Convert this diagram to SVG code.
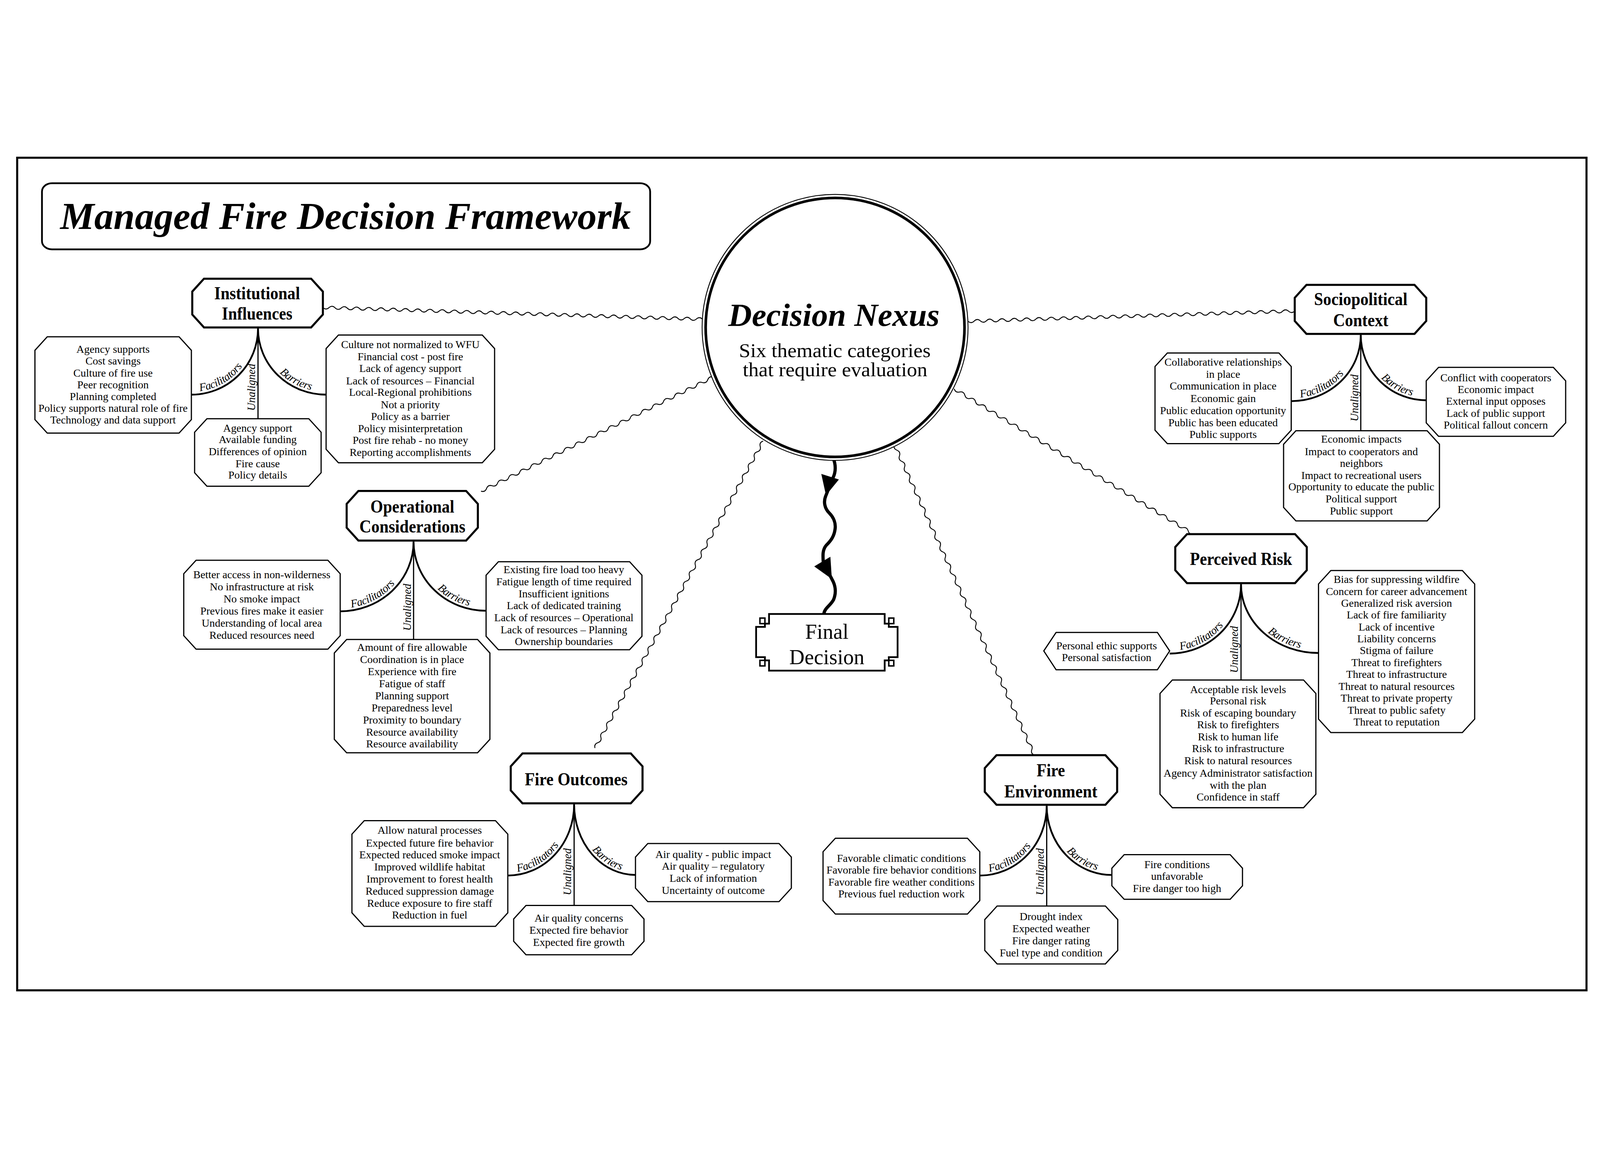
<svg xmlns="http://www.w3.org/2000/svg" width="5451" height="2946" viewBox="0 0 5451 2946">
<style>
svg{width:100vw;height:100vh}
text{font-family:"Liberation Serif","Times New Roman",serif;fill:#000}
.item{font-size:37px;text-anchor:middle}
.hdr{font-size:62px;font-weight:bold;text-anchor:middle}
.lbl{font-size:38px;font-style:italic}
.box{fill:#fff;stroke:#000;stroke-width:4}
.hbox{fill:#fff;stroke:#000;stroke-width:7}
.wave{fill:none;stroke:#000;stroke-width:3}
.arc{fill:none;stroke:#000;stroke-width:6}
.trunk{fill:none;stroke:#000;stroke-width:4}
</style>
<defs>
<path id="fa-inst" d="M652,857 A227,225 0 0 0 879,632"/>
<path id="fa-socio" d="M4399,879 A237,225 0 0 0 4636,654"/>
<path id="fa-oper" d="M1159,1595 A250,237 0 0 0 1409,1358"/>
<path id="fa-perc" d="M3985,1739 A243,236 0 0 0 4228,1503"/>
<path id="fa-fo" d="M1730,2495 A226,242 0 0 0 1956,2253"/>
<path id="fa-fe" d="M3338,2495 A228,237 0 0 0 3566,2258"/>
</defs>
<rect x="0" y="0" width="5451" height="2946" fill="#fff"/>
<rect x="58.5" y="50" width="5346.5" height="2836" fill="none" stroke="#000" stroke-width="7"/>

<g id="title">
<rect x="143" y="137" width="2072" height="225" rx="34" ry="28" fill="#fff" stroke="#000" stroke-width="6"/>
<text x="1177" y="292" font-size="130" font-weight="bold" font-style="italic" text-anchor="middle" textLength="1944" lengthAdjust="spacingAndGlyphs">Managed Fire Decision Framework</text>
</g>

<g id="connectors">
<path class="wave" transform="translate(1100,560) rotate(1.77)" d="M0,0 q10.43,10 20.87,0 t20.87,0 20.87,0 20.87,0 20.87,0 20.87,0 20.87,0 20.87,0 20.87,0 20.87,0 20.87,0 20.87,0 20.87,0 20.87,0 20.87,0 20.87,0 20.87,0 20.87,0 20.87,0 20.87,0 20.87,0 20.87,0 20.87,0 20.87,0 20.87,0 20.87,0 20.87,0 20.87,0 20.87,0 20.87,0 20.87,0 20.87,0 20.87,0 20.87,0 20.87,0 20.87,0 20.87,0 20.87,0 20.87,0 20.87,0 20.87,0 20.87,0 20.87,0 20.87,0 20.87,0 20.87,0 20.87,0 20.87,0 20.87,0 20.87,0 20.87,0 20.87,0 20.87,0 20.87,0 20.87,0 20.87,0 20.87,0 20.87,0 20.87,0 20.87,0 20.87,0 20.87,0"/>
<path class="wave" transform="translate(2430,797) rotate(153.83)" d="M0,0 q10.5,10 20.99,0 t20.99,0 20.99,0 20.99,0 20.99,0 20.99,0 20.99,0 20.99,0 20.99,0 20.99,0 20.99,0 20.99,0 20.99,0 20.99,0 20.99,0 20.99,0 20.99,0 20.99,0 20.99,0 20.99,0 20.99,0 20.99,0 20.99,0 20.99,0 20.99,0 20.99,0 20.99,0 20.99,0 20.99,0 20.99,0 20.99,0 20.99,0 20.99,0 20.99,0 20.99,0 20.99,0 20.99,0 20.99,0 20.99,0 20.99,0 20.99,0 20.99,0"/>
<path class="wave" transform="translate(2600,1015) rotate(118.72)" d="M0,0 q10.46,10 20.92,0 t20.92,0 20.92,0 20.92,0 20.92,0 20.92,0 20.92,0 20.92,0 20.92,0 20.92,0 20.92,0 20.92,0 20.92,0 20.92,0 20.92,0 20.92,0 20.92,0 20.92,0 20.92,0 20.92,0 20.92,0 20.92,0 20.92,0 20.92,0 20.92,0 20.92,0 20.92,0 20.92,0 20.92,0 20.92,0 20.92,0 20.92,0 20.92,0 20.92,0 20.92,0 20.92,0 20.92,0 20.92,0 20.92,0 20.92,0 20.92,0 20.92,0 20.92,0 20.92,0 20.92,0 20.92,0 20.92,0 20.92,0 20.92,0 20.92,0 20.92,0 20.92,0 20.92,0 20.92,0 20.92,0 20.92,0 20.92,0"/>
<path class="wave" transform="translate(3047,1027) rotate(65.73)" d="M0,0 q10.55,10 21.1,0 t21.1,0 21.1,0 21.1,0 21.1,0 21.1,0 21.1,0 21.1,0 21.1,0 21.1,0 21.1,0 21.1,0 21.1,0 21.1,0 21.1,0 21.1,0 21.1,0 21.1,0 21.1,0 21.1,0 21.1,0 21.1,0 21.1,0 21.1,0 21.1,0 21.1,0 21.1,0 21.1,0 21.1,0 21.1,0 21.1,0 21.1,0 21.1,0 21.1,0 21.1,0 21.1,0 21.1,0 21.1,0 21.1,0 21.1,0 21.1,0 21.1,0 21.1,0 21.1,0 21.1,0 21.1,0 21.1,0 21.1,0 21.1,0 21.1,0 21.1,0 21.1,0 21.1,0 21.1,0 21.1,0"/>
<path class="wave" transform="translate(3251,837) rotate(31.27)" d="M0,0 q10.6,10 21.19,0 t21.19,0 21.19,0 21.19,0 21.19,0 21.19,0 21.19,0 21.19,0 21.19,0 21.19,0 21.19,0 21.19,0 21.19,0 21.19,0 21.19,0 21.19,0 21.19,0 21.19,0 21.19,0 21.19,0 21.19,0 21.19,0 21.19,0 21.19,0 21.19,0 21.19,0 21.19,0 21.19,0 21.19,0 21.19,0 21.19,0 21.19,0 21.19,0 21.19,0 21.19,0 21.19,0 21.19,0 21.19,0 21.19,0 21.19,0 21.19,0 21.19,0 21.19,0 21.19,0 21.19,0"/>
<path class="wave" transform="translate(3298,607) rotate(-1.8)" d="M0,0 q10.5,10 21.01,0 t21.01,0 21.01,0 21.01,0 21.01,0 21.01,0 21.01,0 21.01,0 21.01,0 21.01,0 21.01,0 21.01,0 21.01,0 21.01,0 21.01,0 21.01,0 21.01,0 21.01,0 21.01,0 21.01,0 21.01,0 21.01,0 21.01,0 21.01,0 21.01,0 21.01,0 21.01,0 21.01,0 21.01,0 21.01,0 21.01,0 21.01,0 21.01,0 21.01,0 21.01,0 21.01,0 21.01,0 21.01,0 21.01,0 21.01,0 21.01,0 21.01,0 21.01,0 21.01,0 21.01,0 21.01,0 21.01,0 21.01,0 21.01,0 21.01,0 21.01,0 21.01,0 21.01,0"/>

<path fill="none" stroke="#000" stroke-width="11" stroke-linecap="round" d="M2838,1072 C2848,1095 2848,1120 2838,1140 L2814,1200 C2804,1222 2810,1245 2825,1260 C2840,1275 2848,1295 2845,1315 C2842,1340 2830,1355 2815,1370 C2802,1385 2803,1405 2805,1430 L2834,1485 C2846,1505 2850,1530 2840,1555 C2830,1575 2808,1585 2807,1604"/>
<polygon points="2798,1127 2858,1146 2814,1200" fill="#000"/>
<polygon points="2774,1442 2829,1409 2834,1485" fill="#000"/>

<path class="trunk" d="M879,628 V939"/>
<path class="arc" d="M879,632 A227,225 0 0 1 652,857"/>
<path class="arc" id="ba-inst" d="M879,632 A232,225 0 0 0 1111,857"/>
<path class="trunk" d="M4636,650 V980"/>
<path class="arc" d="M4636,654 A237,225 0 0 1 4399,879"/>
<path class="arc" id="ba-socio" d="M4636,654 A223,222 0 0 0 4859,876"/>
<path class="trunk" d="M1409,1354 V1691"/>
<path class="arc" d="M1409,1358 A250,237 0 0 1 1159,1595"/>
<path class="arc" id="ba-oper" d="M1409,1358 A247,235 0 0 0 1656,1593"/>
<path class="trunk" d="M4228,1499 V1829"/>
<path class="arc" d="M4228,1503 A243,236 0 0 1 3985,1739"/>
<path class="arc" id="ba-perc" d="M4228,1503 A264,234 0 0 0 4492,1737"/>
<path class="trunk" d="M1956,2249 V2597"/>
<path class="arc" d="M1956,2253 A226,242 0 0 1 1730,2495"/>
<path class="arc" id="ba-fo" d="M1956,2253 A209,240 0 0 0 2165,2493"/>
<path class="trunk" d="M3566,2254 V2599"/>
<path class="arc" d="M3566,2258 A228,237 0 0 1 3338,2495"/>
<path class="arc" id="ba-fe" d="M3566,2258 A222,235 0 0 0 3788,2493"/>

<text class="lbl" text-anchor="middle" dy="-10"><textPath href="#fa-inst" startOffset="34%">Facilitators</textPath></text>
<text class="lbl" text-anchor="middle" dy="-10"><textPath href="#ba-inst" startOffset="67%">Barriers</textPath></text>
<text class="lbl" text-anchor="middle" transform="translate(869,832) rotate(-90)">Unaligned</text>
<text class="lbl" text-anchor="middle" dy="-10"><textPath href="#fa-socio" startOffset="34%">Facilitators</textPath></text>
<text class="lbl" text-anchor="middle" dy="-10"><textPath href="#ba-socio" startOffset="67%">Barriers</textPath></text>
<text class="lbl" text-anchor="middle" transform="translate(4627,868) rotate(-90)">Unaligned</text>
<text class="lbl" text-anchor="middle" dy="-10"><textPath href="#fa-oper" startOffset="34%">Facilitators</textPath></text>
<text class="lbl" text-anchor="middle" dy="-10"><textPath href="#ba-oper" startOffset="67%">Barriers</textPath></text>
<text class="lbl" text-anchor="middle" transform="translate(1400,1581) rotate(-90)">Unaligned</text>
<text class="lbl" text-anchor="middle" dy="-10"><textPath href="#fa-perc" startOffset="34%">Facilitators</textPath></text>
<text class="lbl" text-anchor="middle" dy="-10"><textPath href="#ba-perc" startOffset="67%">Barriers</textPath></text>
<text class="lbl" text-anchor="middle" transform="translate(4218,1725) rotate(-90)">Unaligned</text>
<text class="lbl" text-anchor="middle" dy="-10"><textPath href="#fa-fo" startOffset="34%">Facilitators</textPath></text>
<text class="lbl" text-anchor="middle" dy="-10"><textPath href="#ba-fo" startOffset="67%">Barriers</textPath></text>
<text class="lbl" text-anchor="middle" transform="translate(1946,2482) rotate(-90)">Unaligned</text>
<text class="lbl" text-anchor="middle" dy="-10"><textPath href="#fa-fe" startOffset="34%">Facilitators</textPath></text>
<text class="lbl" text-anchor="middle" dy="-10"><textPath href="#ba-fe" startOffset="67%">Barriers</textPath></text>
<text class="lbl" text-anchor="middle" transform="translate(3556,2482) rotate(-90)">Unaligned</text>
</g>

<g id="decision-nexus">
<circle cx="2845" cy="628" r="453" fill="#fff" stroke="#000" stroke-width="3"/>
<circle cx="2845" cy="628" r="441" fill="none" stroke="#000" stroke-width="9"/>
<text x="2841" y="622" font-size="110" font-weight="bold" font-style="italic" text-anchor="middle" textLength="720" lengthAdjust="spacingAndGlyphs">Decision Nexus</text>
<text x="2844" y="729" font-size="67" text-anchor="middle" textLength="653" lengthAdjust="spacingAndGlyphs">Six thematic categories</text>
<text x="2845" y="794" font-size="67" text-anchor="middle" textLength="629" lengthAdjust="spacingAndGlyphs">that require evaluation</text>
</g>

<g id="final-decision">
<path d="M2620,1604 H3014 V1637 H3028 V1648 H3058 V1751 H3028 V1762 H3014 V1797 H2620 V1762 H2606 V1751 H2576 V1648 H2606 V1637 H2620 Z" fill="#fff" stroke="#000" stroke-width="6"/>
<rect x="2589" y="1618" width="17" height="19" fill="#fff" stroke="#000" stroke-width="5"/>
<rect x="3028" y="1618" width="17" height="19" fill="#fff" stroke="#000" stroke-width="5"/>
<rect x="2589" y="1762" width="17" height="19" fill="#fff" stroke="#000" stroke-width="5"/>
<rect x="3028" y="1762" width="17" height="19" fill="#fff" stroke="#000" stroke-width="5"/>
<text x="2817" y="1688" font-size="72" text-anchor="middle">Final</text>
<text x="2817" y="1775" font-size="72" text-anchor="middle">Decision</text>
</g>

<g id="institutional">
<polygon class="hbox" points="695,462 1060,462 1100,506 1100,584 1060,628 695,628 655,584 655,506"/>
<text class="hdr" x="876" y="532" textLength="292" lengthAdjust="spacingAndGlyphs">Institutional</text>
<text class="hdr" x="876" y="602" textLength="240" lengthAdjust="spacingAndGlyphs">Influences</text>
<polygon class="box" points="161,660 610,660 652,706 652,942 610,988 161,988 119,942 119,706"/>
<text class="item"><tspan x="385" y="714">Agency supports</tspan><tspan x="385" y="755">Cost savings</tspan><tspan x="385" y="795">Culture of fire use</tspan><tspan x="385" y="835">Peer recognition</tspan><tspan x="385" y="875">Planning completed</tspan><tspan x="385" y="916">Policy supports natural role of fire</tspan><tspan x="385" y="956">Technology and data support</tspan></text>
<polygon class="box" points="705,939 1052,939 1094,985 1094,1123 1052,1169 705,1169 663,1123 663,985"/>
<text class="item"><tspan x="878" y="983">Agency support</tspan><tspan x="878" y="1022">Available funding</tspan><tspan x="878" y="1063">Differences of opinion</tspan><tspan x="878" y="1104">Fire cause</tspan><tspan x="878" y="1143">Policy details</tspan></text>
<polygon class="box" points="1153,654 1643,654 1685,700 1685,1043 1643,1089 1153,1089 1111,1043 1111,700"/>
<text class="item"><tspan x="1398" y="699">Culture not normalized to WFU</tspan><tspan x="1398" y="740">Financial cost - post fire</tspan><tspan x="1398" y="780">Lack of agency support</tspan><tspan x="1398" y="822">Lack of resources – Financial</tspan><tspan x="1398" y="861">Local-Regional prohibitions</tspan><tspan x="1398" y="903">Not a priority</tspan><tspan x="1398" y="944">Policy as a barrier</tspan><tspan x="1398" y="985">Policy misinterpretation</tspan><tspan x="1398" y="1025">Post fire rehab - no money</tspan><tspan x="1398" y="1066">Reporting accomplishments</tspan></text>
</g>

<g id="sociopolitical">
<polygon class="hbox" points="4451,483 4819,483 4859,527 4859,606 4819,650 4451,650 4411,606 4411,527"/>
<text class="hdr" x="4636" y="552" textLength="318" lengthAdjust="spacingAndGlyphs">Sociopolitical</text>
<text class="hdr" x="4636" y="624" textLength="188" lengthAdjust="spacingAndGlyphs">Context</text>
<polygon class="box" points="3977,715 4357,715 4399,761 4399,978 4357,1024 3977,1024 3935,978 3935,761"/>
<text class="item"><tspan x="4167" y="758">Collaborative relationships</tspan><tspan x="4167" y="799">in place</tspan><tspan x="4167" y="839">Communication in place</tspan><tspan x="4167" y="882">Economic gain</tspan><tspan x="4167" y="923">Public education opportunity</tspan><tspan x="4167" y="964">Public has been educated</tspan><tspan x="4167" y="1004">Public supports</tspan></text>
<polygon class="box" points="4415,980 4862,980 4904,1026 4904,1241 4862,1287 4415,1287 4373,1241 4373,1026"/>
<text class="item"><tspan x="4638" y="1021">Economic impacts</tspan><tspan x="4638" y="1063">Impact to cooperators and</tspan><tspan x="4638" y="1103">neighbors</tspan><tspan x="4638" y="1144">Impact to recreational users</tspan><tspan x="4638" y="1183">Opportunity to educate the public</tspan><tspan x="4638" y="1224">Political support</tspan><tspan x="4638" y="1265">Public support</tspan></text>
<polygon class="box" points="4901,764 5292,764 5334,810 5334,953 5292,999 4901,999 4859,953 4859,810"/>
<text class="item"><tspan x="5096" y="812">Conflict with cooperators</tspan><tspan x="5096" y="851">Economic impact</tspan><tspan x="5096" y="892">External input opposes</tspan><tspan x="5096" y="933">Lack of public support</tspan><tspan x="5096" y="972">Political fallout concern</tspan></text>
</g>

<g id="operational">
<polygon class="hbox" points="1221,1185 1588,1185 1628,1229 1628,1310 1588,1354 1221,1354 1181,1310 1181,1229"/>
<text class="hdr" x="1405" y="1259" textLength="286" lengthAdjust="spacingAndGlyphs">Operational</text>
<text class="hdr" x="1405" y="1326" textLength="361" lengthAdjust="spacingAndGlyphs">Considerations</text>
<polygon class="box" points="668,1421 1117,1421 1159,1467 1159,1678 1117,1724 668,1724 626,1678 626,1467"/>
<text class="item"><tspan x="892" y="1483">Better access in non-wilderness</tspan><tspan x="892" y="1524">No infrastructure at risk</tspan><tspan x="892" y="1565">No smoke impact</tspan><tspan x="892" y="1606">Previous fires make it easier</tspan><tspan x="892" y="1647">Understanding of local area</tspan><tspan x="892" y="1688">Reduced resources need</tspan></text>
<polygon class="box" points="1181,1691 1627,1691 1669,1737 1669,2031 1627,2077 1181,2077 1139,2031 1139,1737"/>
<text class="item"><tspan x="1404" y="1730">Amount of fire allowable</tspan><tspan x="1404" y="1771">Coordination is in place</tspan><tspan x="1404" y="1812">Experience with fire</tspan><tspan x="1404" y="1853">Fatigue of staff</tspan><tspan x="1404" y="1895">Planning support</tspan><tspan x="1404" y="1936">Preparedness level</tspan><tspan x="1404" y="1977">Proximity to boundary</tspan><tspan x="1404" y="2018">Resource availability</tspan><tspan x="1404" y="2059">Resource availability</tspan></text>
<polygon class="box" points="1698,1426 2145,1426 2187,1472 2187,1680 2145,1726 1698,1726 1656,1680 1656,1472"/>
<text class="item"><tspan x="1921" y="1465">Existing fire load too heavy</tspan><tspan x="1921" y="1506">Fatigue length of time required</tspan><tspan x="1921" y="1547">Insufficient ignitions</tspan><tspan x="1921" y="1587">Lack of dedicated training</tspan><tspan x="1921" y="1629">Lack of resources – Operational</tspan><tspan x="1921" y="1670">Lack of resources – Planning</tspan><tspan x="1921" y="1710">Ownership boundaries</tspan></text>
</g>

<g id="perceived-risk">
<polygon class="hbox" points="4044,1332 4412,1332 4452,1376 4452,1455 4412,1499 4044,1499 4004,1455 4004,1376"/>
<text class="hdr" x="4228" y="1437" textLength="348" lengthAdjust="spacingAndGlyphs">Perceived Risk</text>
<polygon class="box" points="3598,1667 3943,1667 3985,1730 3943,1794 3598,1794 3556,1730"/>
<text class="item"><tspan x="3770" y="1724">Personal ethic supports</tspan><tspan x="3770" y="1764">Personal satisfaction</tspan></text>
<polygon class="box" points="3994,1829 4441,1829 4483,1875 4483,2218 4441,2264 3994,2264 3952,2218 3952,1875"/>
<text class="item"><tspan x="4218" y="1873">Acceptable risk levels</tspan><tspan x="4218" y="1912">Personal risk</tspan><tspan x="4218" y="1954">Risk of escaping boundary</tspan><tspan x="4218" y="1994">Risk to firefighters</tspan><tspan x="4218" y="2035">Risk to human life</tspan><tspan x="4218" y="2075">Risk to infrastructure</tspan><tspan x="4218" y="2116">Risk to natural resources</tspan><tspan x="4218" y="2158">Agency Administrator satisfaction</tspan><tspan x="4218" y="2199">with the plan</tspan><tspan x="4218" y="2239">Confidence in staff</tspan></text>
<polygon class="box" points="4534,1456 4982,1456 5024,1502 5024,1962 4982,2008 4534,2008 4492,1962 4492,1502"/>
<text class="item"><tspan x="4758" y="1498">Bias for suppressing wildfire</tspan><tspan x="4758" y="1539">Concern for career advancement</tspan><tspan x="4758" y="1579">Generalized risk aversion</tspan><tspan x="4758" y="1620">Lack of fire familiarity</tspan><tspan x="4758" y="1660">Lack of incentive</tspan><tspan x="4758" y="1701">Liability concerns</tspan><tspan x="4758" y="1741">Stigma of failure</tspan><tspan x="4758" y="1782">Threat to firefighters</tspan><tspan x="4758" y="1822">Threat to infrastructure</tspan><tspan x="4758" y="1863">Threat to natural resources</tspan><tspan x="4758" y="1903">Threat to private property</tspan><tspan x="4758" y="1944">Threat to public safety</tspan><tspan x="4758" y="1984">Threat to reputation</tspan></text>
</g>

<g id="fire-outcomes">
<polygon class="hbox" points="1780,2079 2149,2079 2189,2123 2189,2205 2149,2249 1780,2249 1740,2205 1740,2123"/>
<text class="hdr" x="1963" y="2187" textLength="350" lengthAdjust="spacingAndGlyphs">Fire Outcomes</text>
<polygon class="box" points="1241,2308 1688,2308 1730,2354 1730,2622 1688,2668 1241,2668 1199,2622 1199,2354"/>
<text class="item"><tspan x="1464" y="2353">Allow natural processes</tspan><tspan x="1464" y="2396">Expected future fire behavior</tspan><tspan x="1464" y="2437">Expected reduced smoke impact</tspan><tspan x="1464" y="2478">Improved wildlife habitat</tspan><tspan x="1464" y="2519">Improvement to forest health</tspan><tspan x="1464" y="2560">Reduced suppression damage</tspan><tspan x="1464" y="2601">Reduce exposure to fire staff</tspan><tspan x="1464" y="2641">Reduction in fuel</tspan></text>
<polygon class="box" points="1792,2597 2152,2597 2194,2643 2194,2719 2152,2765 1792,2765 1750,2719 1750,2643"/>
<text class="item"><tspan x="1972" y="2652">Air quality concerns</tspan><tspan x="1972" y="2693">Expected fire behavior</tspan><tspan x="1972" y="2734">Expected fire growth</tspan></text>
<polygon class="box" points="2207,2386 2654,2386 2696,2432 2696,2538 2654,2584 2207,2584 2165,2538 2165,2432"/>
<text class="item"><tspan x="2430" y="2435">Air quality - public impact</tspan><tspan x="2430" y="2475">Air quality – regulatory</tspan><tspan x="2430" y="2517">Lack of information</tspan><tspan x="2430" y="2557">Uncertainty of outcome</tspan></text>
</g>

<g id="fire-environment">
<polygon class="hbox" points="3395,2085 3766,2085 3806,2129 3806,2210 3766,2254 3395,2254 3355,2210 3355,2129"/>
<text class="hdr" x="3580" y="2157" textLength="97" lengthAdjust="spacingAndGlyphs">Fire</text>
<text class="hdr" x="3580" y="2229" textLength="317" lengthAdjust="spacingAndGlyphs">Environment</text>
<polygon class="box" points="2846,2368 3296,2368 3338,2414 3338,2580 3296,2626 2846,2626 2804,2580 2804,2414"/>
<text class="item"><tspan x="3071" y="2448">Favorable climatic conditions</tspan><tspan x="3071" y="2489">Favorable fire behavior conditions</tspan><tspan x="3071" y="2530">Favorable fire weather conditions</tspan><tspan x="3071" y="2570">Previous fuel reduction work</tspan></text>
<polygon class="box" points="3397,2599 3766,2599 3808,2645 3808,2750 3766,2796 3397,2796 3355,2750 3355,2645"/>
<text class="item"><tspan x="3581" y="2647">Drought index</tspan><tspan x="3581" y="2688">Expected weather</tspan><tspan x="3581" y="2729">Fire danger rating</tspan><tspan x="3581" y="2770">Fuel type and condition</tspan></text>
<polygon class="box" points="3830,2424 4191,2424 4233,2470 4233,2530 4191,2576 3830,2576 3788,2530 3788,2470"/>
<text class="item"><tspan x="4010" y="2470">Fire conditions</tspan><tspan x="4010" y="2510">unfavorable</tspan><tspan x="4010" y="2551">Fire danger too high</tspan></text>
</g>
</svg>
